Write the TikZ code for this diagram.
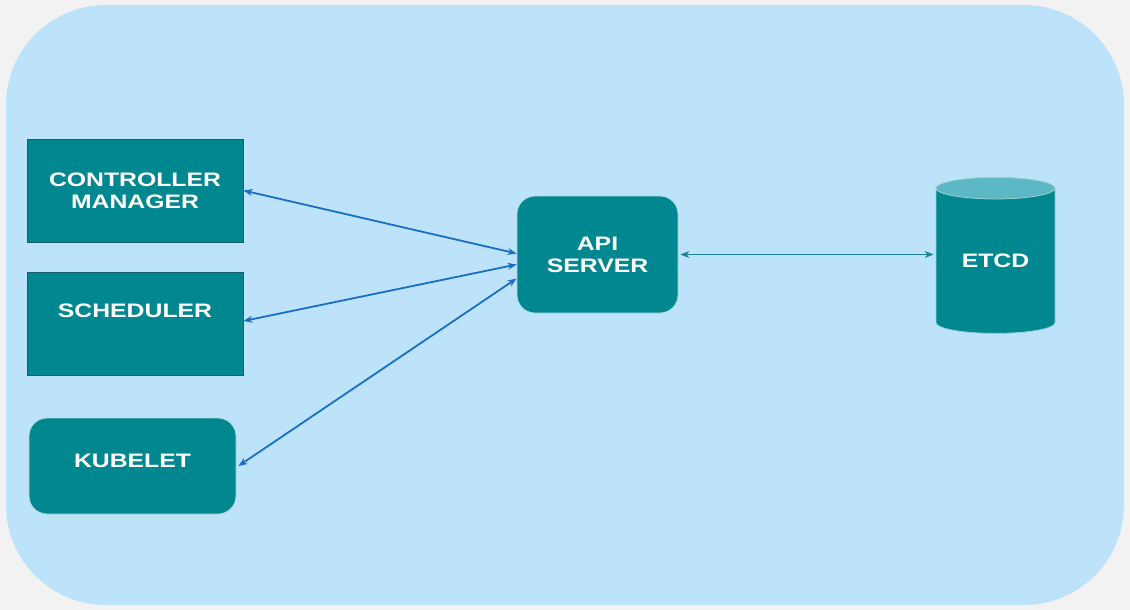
\documentclass[tikz,border=0pt]{standalone}
\usepackage{fontspec}
\newfontfamily\boxfont[FakeStretch=1.27]{Liberation Sans}
\usetikzlibrary{shapes.geometric, arrows.meta, positioning}

\definecolor{pagegray}{HTML}{F2F2F2}
\definecolor{panelblue}{HTML}{BDE3FB}
\definecolor{tealfill}{HTML}{00878F}
\definecolor{tealdark}{HTML}{1B5C6A}
\definecolor{teallight}{HTML}{5BB8C4}
\definecolor{linkblue}{HTML}{1A6FC4}
\definecolor{linkteal}{HTML}{1A8496}

\tikzset{
    comp/.style={text=white, align=center,
        font=\boxfont\bfseries\fontsize{19.5}{22}\selectfont, inner sep=0pt},
    sqbox/.style={comp, fill=tealfill, draw=tealdark, line width=1pt,
        minimum width=216pt, minimum height=103pt},
    rndbox/.style={comp, fill=tealfill, draw=white!70!tealfill, line width=0.8pt, rounded corners=18pt},
    store/.style={comp, cylinder, shape border rotate=90, draw=white!60!tealfill,
        line width=0.8pt, cylinder uses custom fill, cylinder body fill=tealfill,
        cylinder end fill=teallight, aspect=0.32,
        minimum width=119pt, minimum height=156pt},
    link/.style={{Stealth[length=9pt,width=7pt]}-{Stealth[length=9pt,width=7pt]},
        draw=linkblue, line width=1.8pt},
}

\begin{document}
\begin{tikzpicture}[x=1pt, y=-1pt]
    % Background
    \fill[pagegray] (0,0) rectangle (1130,610);
    \useasboundingbox (0,0) rectangle (1130,610);
    \fill[panelblue, rounded corners=100pt] (6,5) rectangle (1124,605);

    % Control plane components
    \node[sqbox] (ctrl) at (135,190.5) {CONTROLLER\\MANAGER};
    \node[sqbox, text depth=26pt] (sched) at (135,324) {SCHEDULER};
    \node[rndbox, minimum width=207pt, minimum height=96pt, text depth=10pt]
        (kube) at (132.5,466) {KUBELET};

    % API server and store
    \node[rndbox, minimum width=161pt, minimum height=117pt] (api) at (597.5,254.5) {API\\SERVER};
    \node[store] (etcd) at (995.5,261) {\raisebox{-6pt}[0pt][0pt]{ETCD}};

    % Links
    \draw[link] (ctrl.east) -- ([yshift=1pt]api.west);
    \draw[link] ([yshift=3pt]sched.east) -- ([yshift=-10pt]api.west);
    \draw[link] ([xshift=2pt]kube.east) -- ([yshift=-24pt]api.west);
    \draw[link, draw=linkteal, line width=1.5pt] ([xshift=2pt]api.east) -- ([xshift=-2pt]etcd.west |- api.east);
\end{tikzpicture}
\end{document}
